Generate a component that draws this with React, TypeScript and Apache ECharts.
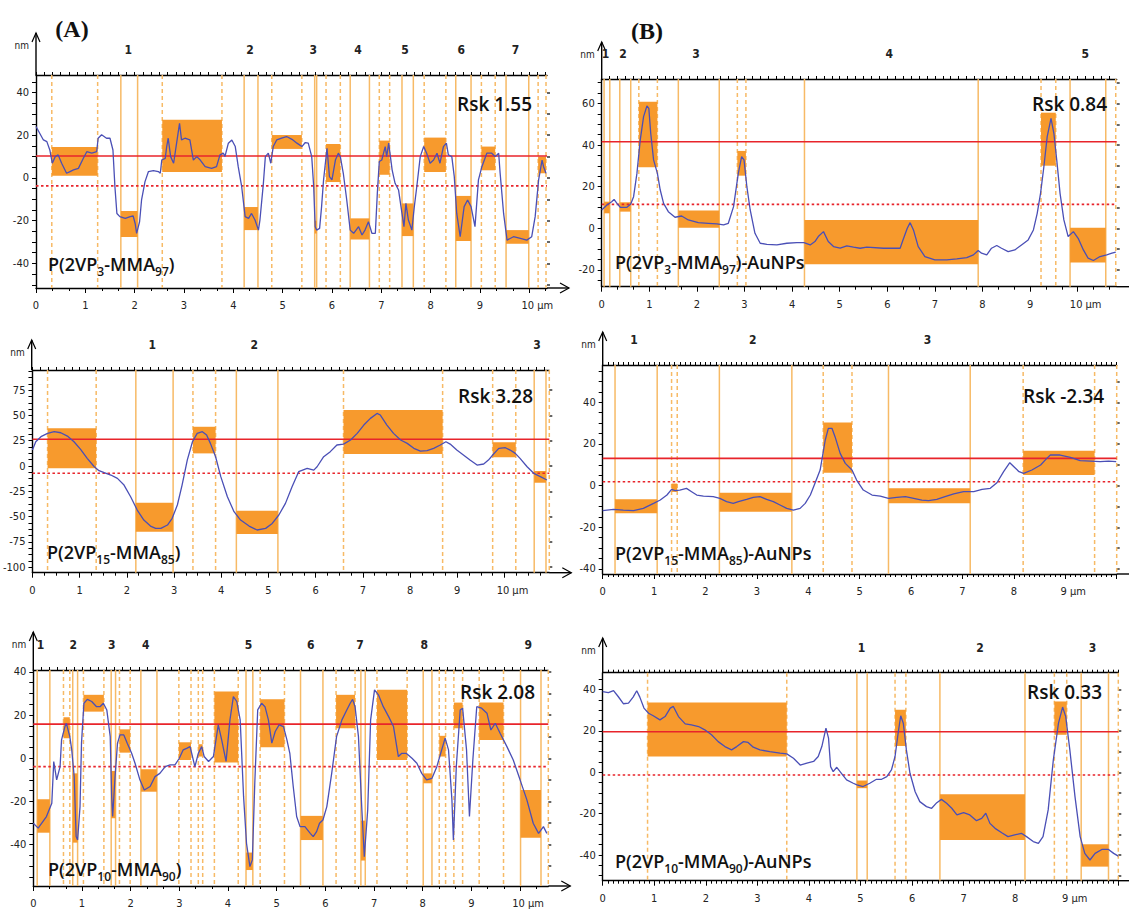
import React, { useEffect, useRef } from 'react';
import * as echarts from 'echarts';

// ---------------- DATA ----------------
// Panel A1 : P(2VP3-MMA97)
const a1Profile = [[0,24.1],[0.15,17.8],[0.22,17.0],[0.28,13.1],[0.33,6.9],[0.39,10.0],[0.45,10.8],[0.52,6.9],[0.62,2.2],[0.69,3.0],[0.76,3.8],[0.86,4.5],[0.96,9.2],[1.03,12.3],[1.13,11.6],[1.23,12.3],[1.26,18.6],[1.33,20.2],[1.43,18.6],[1.50,18.6],[1.56,13.1],[1.60,-4.1],[1.64,-16.6],[1.70,-18.1],[1.81,-18.9],[1.91,-18.1],[1.97,-17.8],[2.01,-21.3],[2.04,-25.9],[2.10,-20.5],[2.14,-10.3],[2.21,-1.7],[2.28,3.0],[2.38,3.4],[2.48,3.0],[2.52,2.2],[2.55,8.4],[2.62,9.2],[2.65,14.7],[2.68,18.6],[2.73,10.0],[2.79,6.9],[2.84,14.7],[2.91,25.6],[2.95,17.8],[3.02,18.6],[3.12,17.8],[3.19,8.4],[3.26,10.0],[3.33,8.4],[3.43,5.3],[3.56,4.5],[3.66,5.3],[3.73,10.8],[3.80,11.6],[3.83,10.0],[3.90,16.3],[3.97,17.8],[4.04,14.7],[4.10,5.3],[4.17,-4.1],[4.24,-18.1],[4.31,-18.9],[4.37,-16.6],[4.44,-19.7],[4.51,-24.4],[4.54,-19.7],[4.61,-2.5],[4.65,10.0],[4.71,11.6],[4.76,6.9],[4.81,14.7],[4.88,17.8],[4.98,18.6],[5.08,19.4],[5.19,18.1],[5.29,16.3],[5.39,14.7],[5.46,16.6],[5.52,16.3],[5.59,10.0],[5.63,-4.1],[5.66,-22.8],[5.69,-24.4],[5.75,-23.6],[5.79,-13.4],[5.83,-0.9],[5.90,13.9],[5.95,0.6],[6.00,-0.9],[6.07,8.4],[6.13,11.6],[6.17,10.0],[6.23,2.2],[6.30,-10.3],[6.37,-24.4],[6.44,-25.9],[6.54,-22.8],[6.61,-26.7],[6.67,-24.4],[6.74,-20.5],[6.81,-25.9],[6.88,-25.9],[6.92,-7.2],[6.96,7.7],[7.01,8.4],[7.08,14.7],[7.11,10.0],[7.15,16.3],[7.22,3.8],[7.28,-2.5],[7.35,-5.6],[7.42,-16.6],[7.46,-22.8],[7.50,-11.9],[7.55,-19.7],[7.62,-24.4],[7.67,-13.4],[7.72,-4.1],[7.79,10.0],[7.86,14.7],[7.92,11.6],[7.99,6.9],[8.06,8.4],[8.13,11.6],[8.19,6.9],[8.26,14.7],[8.32,16.3],[8.36,10.8],[8.43,10.0],[8.48,0.6],[8.53,-16.6],[8.60,-27.5],[8.68,-13.4],[8.75,-10.3],[8.82,-13.4],[8.90,-22.8],[8.97,-0.9],[9.04,5.3],[9.14,11.6],[9.24,11.6],[9.31,10.0],[9.38,11.6],[9.41,2.2],[9.48,-16.6],[9.55,-29.1],[9.68,-27.5],[9.82,-28.3],[9.95,-29.1],[10.05,-27.5],[10.12,-18.1],[10.19,-0.9],[10.26,8.4],[10.29,5.3],[10.34,2.2]];
const a1Rects = [[0.32,1.25,1.0,14.5],[1.72,2.06,-27.6,-15.5],[2.56,3.77,2.8,27.2],[4.22,4.50,-24.4,-13.6],[4.78,5.39,13.6,20.1],[5.65,5.69,-26.0,-20.0],[5.88,6.17,-1.9,15.9],[6.37,6.76,-28.8,-18.9],[6.96,7.17,1.5,17.5],[7.42,7.65,-27.2,-11.9],[7.87,8.31,2.8,18.9],[8.51,8.82,-29.5,-8.4],[9.03,9.31,3.6,14.7],[9.53,9.99,-30.8,-24.4],[10.18,10.34,2.2,10.0]];
const a1Solid = [1.72,2.06,4.22,4.50,5.65,5.69,6.37,6.76,7.42,7.65,8.51,8.82,9.53,9.99];
const a1Dashed = [0.32,1.25,2.56,3.77,4.78,5.39,5.88,6.17,6.96,7.17,7.87,8.31,9.03,9.31,10.18,10.34];
const a1Levels = [10.3, -3.7];
const a1Regions = [1.87,4.34,5.62,6.53,7.48,8.62,9.72];
const a1Rsk = 'Rsk 1.55';
const a1Name = ['P(2VP','3','-MMA','97',')'];

// Panel B1 : P(2VP3-MMA97)-AuNPs
const b1Profile = [[0,8.8],[0.11,11.2],[0.21,12.8],[0.26,13.9],[0.32,12.0],[0.39,10.1],[0.53,10.1],[0.61,11.7],[0.67,15.2],[0.74,26.4],[0.81,42.5],[0.88,53.7],[0.95,58.8],[0.99,57.7],[1.03,45.7],[1.09,32.9],[1.17,26.4],[1.23,18.4],[1.30,12.0],[1.40,8.0],[1.54,5.3],[1.68,5.9],[1.82,4.0],[2.03,2.7],[2.24,2.4],[2.42,2.1],[2.56,1.6],[2.66,2.4],[2.77,10.4],[2.87,26.4],[2.94,34.5],[2.99,32.9],[3.05,20.0],[3.12,8.8],[3.22,-2.4],[3.33,-7.2],[3.47,-7.7],[3.68,-8.0],[3.89,-7.2],[4.10,-6.9],[4.25,-6.9],[4.38,-8.0],[4.48,-6.4],[4.55,-4.0],[4.66,-1.6],[4.76,-6.4],[4.87,-8.8],[5.01,-9.6],[5.15,-8.5],[5.29,-9.1],[5.43,-9.6],[5.57,-9.1],[5.92,-9.6],[6.27,-9.6],[6.33,-5.6],[6.42,0.0],[6.48,2.7],[6.55,-0.8],[6.65,-8.8],[6.79,-13.6],[7.00,-15.2],[7.25,-15.2],[7.46,-14.7],[7.67,-14.1],[7.81,-12.8],[7.91,-10.7],[7.98,-12.0],[8.09,-12.8],[8.19,-9.6],[8.30,-8.3],[8.40,-9.6],[8.54,-11.2],[8.68,-10.4],[8.82,-8.0],[8.96,-5.6],[9.07,-0.8],[9.15,7.2],[9.22,16.8],[9.29,29.6],[9.36,44.1],[9.44,52.9],[9.50,45.7],[9.56,32.9],[9.63,16.8],[9.71,4.0],[9.80,-4.0],[9.91,-1.6],[10.01,-4.8],[10.12,-10.4],[10.22,-14.4],[10.33,-15.5],[10.47,-13.6],[10.61,-12.8],[10.72,-12.0],[10.80,-11.5]];
const b1Rects = [[0.05,0.17,7.2,12.8],[0.38,0.61,8.0,12.5],[0.78,1.17,29.3,60.9],[1.61,2.47,0.3,8.5],[2.85,3.03,25.3,37.2],[4.26,7.91,-17.3,4.0],[9.23,9.54,30.1,55.6],[9.84,10.59,-16.5,0.3]];
const b1Solid = [0.05,0.17,0.38,0.61,1.61,2.47,4.26,7.91,9.84,10.59];
const b1Dashed = [0.78,1.17,2.85,3.03,9.23,9.54,10.80];
const b1Levels = [41.6, 11.5];
const b1Regions = [0.08,0.45,1.98,6.04,10.16];
const b1Rsk = 'Rsk 0.84';
const b1Name = ['P(2VP','3','-MMA','97',')-AuNPs'];

// Panel A2 : P(2VP15-MMA85)
const a2Profile = [[0,15.8],[0.07,24.0],[0.18,29.0],[0.32,32.3],[0.46,33.9],[0.60,32.9],[0.74,29.6],[0.88,24.0],[1.02,16.5],[1.16,7.6],[1.31,-0.7],[1.41,-4.6],[1.52,-6.6],[1.66,-8.9],[1.80,-12.2],[1.94,-18.8],[2.08,-30.3],[2.22,-43.5],[2.36,-53.4],[2.50,-59.3],[2.61,-61.6],[2.72,-61.6],[2.86,-58.3],[2.96,-51.7],[3.07,-38.5],[3.17,-18.8],[3.28,5.9],[3.39,24.0],[3.49,32.3],[3.60,33.9],[3.69,30.6],[3.77,22.4],[3.88,9.2],[3.99,-10.5],[4.13,-30.3],[4.27,-45.1],[4.41,-53.4],[4.59,-59.3],[4.76,-63.2],[4.94,-61.6],[5.08,-56.7],[5.22,-48.4],[5.36,-36.9],[5.50,-20.4],[5.64,-5.6],[5.82,-2.3],[5.96,-4.0],[6.03,-0.7],[6.17,9.2],[6.31,14.2],[6.45,20.8],[6.59,21.7],[6.74,25.7],[6.88,32.3],[7.02,40.5],[7.16,47.1],[7.30,52.0],[7.37,50.4],[7.51,40.5],[7.65,32.3],[7.80,25.7],[7.94,22.4],[8.08,17.5],[8.22,14.8],[8.36,15.2],[8.50,17.5],[8.64,20.8],[8.76,24.0],[8.85,21.7],[8.99,15.8],[9.13,10.9],[9.27,5.9],[9.42,1.0],[9.56,2.0],[9.66,5.9],[9.77,11.9],[9.88,17.5],[10.02,18.1],[10.12,15.8],[10.23,12.5],[10.33,7.6],[10.48,-0.7],[10.62,-7.2],[10.76,-10.5],[10.90,-13.8]];
const a2Rects = [[0.32,1.35,-2.3,37.3],[2.19,2.98,-64.9,-36.3],[3.40,3.88,12.5,38.8],[4.32,5.20,-67.2,-44.2],[6.59,8.69,11.9,55.3],[9.75,10.24,8.6,23.4],[10.63,10.88,-16.5,-4.9]];
const a2Solid = [2.19,2.98,4.32,5.20,10.63,10.88];
const a2Dashed = [0.32,1.35,3.40,3.88,6.59,8.69,9.75,10.24,10.95];
const a2Levels = [26.4, -7.2];
const a2Regions = [2.54,4.70,10.69];
const a2Rsk = 'Rsk 3.28';
const a2Name = ['P(2VP','15','-MMA','85',')'];

// Panel B2 : P(2VP15-MMA85)-AuNPs
const b2Profile = [[0,-12.0],[0.21,-11.4],[0.40,-11.7],[0.60,-12.0],[0.79,-10.9],[0.99,-8.5],[1.12,-6.9],[1.25,-4.5],[1.34,-1.8],[1.41,-2.4],[1.50,-2.1],[1.63,-1.3],[1.73,-2.9],[1.83,-4.5],[1.96,-5.0],[2.15,-5.3],[2.28,-6.1],[2.41,-7.7],[2.54,-8.5],[2.64,-7.7],[2.80,-6.6],[2.93,-5.6],[3.06,-5.3],[3.19,-6.6],[3.32,-7.7],[3.45,-9.3],[3.58,-10.9],[3.71,-11.7],[3.84,-10.9],[3.94,-8.5],[4.04,-4.5],[4.13,1.1],[4.23,7.5],[4.33,21.9],[4.39,27.5],[4.46,27.5],[4.52,23.5],[4.62,15.5],[4.72,10.7],[4.85,7.5],[4.94,2.7],[5.07,-2.1],[5.24,-4.5],[5.40,-5.0],[5.56,-6.1],[5.72,-5.6],[5.89,-5.3],[6.05,-6.1],[6.21,-6.9],[6.34,-7.2],[6.50,-6.6],[6.66,-5.3],[6.83,-4.0],[7.02,-2.9],[7.22,-2.9],[7.38,-1.8],[7.54,-1.3],[7.67,1.4],[7.80,6.7],[7.92,11.0],[8.00,9.1],[8.10,6.7],[8.19,5.9],[8.35,7.5],[8.52,9.9],[8.64,13.1],[8.71,14.7],[8.90,14.7],[9.10,13.6],[9.29,12.0],[9.49,11.8],[9.68,11.5],[9.84,11.8],[9.99,11.5]];
const b2Rects = [[0.24,1.06,-13.3,-6.5],[1.34,1.45,-3.0,1.0],[2.27,3.68,-12.5,-3.4],[4.29,4.85,6.2,30.3],[5.56,7.15,-8.5,-1.3],[8.18,9.57,5.1,16.8]];
const b2Solid = [0.24,1.06,2.27,3.68,5.56,7.15];
const b2Dashed = [1.34,1.45,4.29,4.85,8.18,9.57,10.0];
const b2Levels = [13.1, 1.9];
const b2Regions = [0.61,2.92,6.32];
const b2Rsk = 'Rsk -2.34';
const b2Name = ['P(2VP','15','-MMA','85',')-AuNPs'];

// Panel A3 : P(2VP10-MMA90)
const a3Profile = [[0,-30.1],[0.10,-32.4],[0.27,-27.0],[0.38,-20.9],[0.42,-1.5],[0.48,-10.0],[0.55,-3.9],[0.58,8.5],[0.65,14.7],[0.68,16.2],[0.75,10.0],[0.79,3.9],[0.84,-8.5],[0.88,-36.3],[0.91,-37.9],[0.96,-22.4],[0.99,7.0],[1.04,25.5],[1.11,27.3],[1.20,26.3],[1.30,23.9],[1.37,23.9],[1.44,25.5],[1.51,22.4],[1.58,10.0],[1.61,-17.8],[1.63,-27.0],[1.68,-8.5],[1.73,7.0],[1.78,10.8],[1.86,10.8],[1.93,7.0],[2.02,2.3],[2.09,-2.3],[2.19,-10.0],[2.28,-14.7],[2.40,-13.1],[2.50,-8.5],[2.60,-7.0],[2.71,-3.9],[2.81,-3.1],[2.91,-3.1],[3.00,0.0],[3.08,3.9],[3.15,4.6],[3.22,5.4],[3.27,0.8],[3.32,-3.9],[3.39,2.3],[3.46,5.4],[3.51,0.8],[3.60,-1.5],[3.70,0.8],[3.80,15.5],[3.87,8.5],[3.96,-1.5],[4.04,17.8],[4.11,28.6],[4.18,26.3],[4.25,17.8],[4.32,-17.8],[4.38,-39.4],[4.45,-50.2],[4.50,-47.1],[4.55,-11.6],[4.61,22.4],[4.69,25.5],[4.76,23.9],[4.83,17.8],[4.90,7.0],[4.97,12.4],[5.05,15.5],[5.14,14.7],[5.21,8.5],[5.27,2.3],[5.34,-13.1],[5.41,-27.0],[5.48,-31.7],[5.58,-31.7],[5.69,-34.8],[5.75,-36.3],[5.82,-34.0],[5.88,-30.1],[5.95,-28.6],[6.03,-22.4],[6.13,-7.0],[6.23,10.0],[6.34,17.8],[6.44,22.4],[6.51,25.5],[6.56,27.3],[6.61,23.9],[6.68,10.0],[6.75,-23.9],[6.80,-45.6],[6.87,-23.9],[6.93,17.8],[7.01,31.7],[7.09,29.4],[7.19,23.9],[7.30,19.3],[7.40,14.7],[7.50,0.8],[7.57,2.3],[7.66,2.3],[7.78,0.0],[7.88,-2.3],[7.98,-7.0],[8.08,-10.0],[8.19,-9.3],[8.29,-3.9],[8.37,2.3],[8.46,9.3],[8.53,3.9],[8.60,-19.3],[8.63,-37.9],[8.69,-3.9],[8.77,22.4],[8.82,23.2],[8.90,3.9],[8.96,-27.0],[9.03,-0.8],[9.11,23.9],[9.21,23.2],[9.32,20.9],[9.40,13.1],[9.49,16.2],[9.59,11.6],[9.73,5.4],[9.86,-0.8],[10.00,-10.0],[10.14,-19.3],[10.27,-30.1],[10.38,-34.8],[10.48,-31.7],[10.55,-34.8]];
const a3Rects = [[0.08,0.34,-34.5,-19.0],[0.62,0.75,9.3,19.0],[0.81,0.91,-39.1,-7.0],[1.03,1.45,21.6,29.4],[1.60,1.69,-27.8,-5.9],[1.77,1.99,2.6,13.4],[2.21,2.54,-15.5,-5.1],[2.99,3.24,-0.8,7.4],[3.39,3.48,0.8,6.5],[3.72,4.21,-2.0,30.9],[4.37,4.51,-51.8,-43.7],[4.66,5.16,5.1,27.3],[5.49,5.95,-37.9,-26.7],[6.22,6.61,13.9,29.4],[6.73,6.82,-47.4,-28.9],[7.06,7.68,-0.8,31.7],[8.01,8.19,-11.6,-7.0],[8.34,8.47,0.8,10.4],[8.64,8.82,13.9,25.8],[9.16,9.66,8.5,25.8],[10.01,10.43,-36.8,-14.7]];
const a3Solid = [0.08,0.34,0.81,0.91,1.60,1.69,2.21,2.54,4.37,4.51,5.49,5.95,6.73,6.82,8.01,8.19,10.01,10.43];
const a3Dashed = [0.62,0.75,1.03,1.45,1.77,1.99,2.99,3.24,3.39,3.48,3.72,4.21,4.66,5.16,6.22,6.61,7.06,7.68,8.34,8.47,8.64,8.82,9.16,9.66,10.58];
const a3Levels = [15.8, -3.9];
const a3Regions = [0.15,0.82,1.61,2.31,4.42,5.70,6.71,8.03,10.17];
const a3Rsk = 'Rsk 2.08';
const a3Name = ['P(2VP','10','-MMA','90',')'];

// Panel B3 : P(2VP10-MMA90)-AuNPs
const b3Profile = [[0,39.0],[0.11,38.5],[0.21,39.4],[0.30,36.6],[0.40,33.1],[0.50,33.4],[0.59,36.3],[0.66,39.4],[0.72,36.3],[0.80,31.0],[0.89,28.5],[0.98,27.3],[1.11,25.3],[1.21,26.9],[1.31,31.0],[1.37,31.8],[1.47,26.9],[1.60,23.4],[1.72,22.9],[1.86,22.1],[1.98,20.5],[2.11,18.1],[2.24,14.8],[2.37,12.4],[2.50,10.8],[2.60,12.4],[2.73,14.8],[2.82,14.4],[2.92,12.1],[3.05,10.8],[3.24,10.0],[3.44,9.2],[3.57,8.9],[3.70,6.8],[3.83,3.5],[3.96,4.4],[4.09,5.2],[4.18,7.6],[4.25,12.4],[4.33,21.3],[4.38,16.5],[4.42,2.7],[4.47,0.3],[4.54,2.4],[4.63,-0.5],[4.73,-3.7],[4.86,-5.3],[4.93,-6.1],[5.05,-6.9],[5.18,-5.3],[5.31,-3.4],[5.41,-3.4],[5.51,-2.1],[5.60,1.1],[5.67,7.6],[5.73,18.9],[5.78,27.3],[5.83,23.7],[5.89,10.8],[5.96,-0.5],[6.06,-9.4],[6.15,-14.2],[6.28,-16.6],[6.38,-17.4],[6.48,-14.7],[6.57,-13.1],[6.67,-15.0],[6.77,-17.4],[6.87,-20.6],[7.00,-19.5],[7.12,-20.6],[7.25,-23.4],[7.35,-22.3],[7.43,-19.8],[7.51,-24.7],[7.61,-27.1],[7.74,-29.2],[7.86,-31.1],[7.99,-30.3],[8.12,-29.5],[8.22,-31.1],[8.35,-33.5],[8.45,-34.4],[8.54,-31.1],[8.64,-18.2],[8.74,6.0],[8.84,23.7],[8.92,31.5],[8.98,26.9],[9.06,10.8],[9.16,-11.8],[9.26,-31.1],[9.35,-39.2],[9.45,-42.4],[9.55,-39.2],[9.68,-37.3],[9.81,-37.3],[9.91,-39.2],[10.0,-40.5]];
const b3Rects = [[0.87,3.57,7.6,33.7],[4.93,5.13,-7.7,-4.0],[5.67,5.88,12.7,30.2],[6.54,8.19,-32.7,-10.6],[8.76,9.00,18.1,34.2],[9.28,9.81,-45.6,-34.8]];
const b3Solid = [4.93,5.13,6.54,8.19,9.28,9.81];
const b3Dashed = [0.87,3.57,5.67,5.88,8.76,9.00,10.0];
const b3Levels = [19.6, -1.3];
const b3Regions = [5.02,7.32,9.50];
const b3Rsk = 'Rsk 0.33';
const b3Name = ['P(2VP','10','-MMA','90',')-AuNPs'];

const PANELS = [
  { profile: a1Profile, rects: a1Rects, solid: a1Solid, dashed: a1Dashed, levels: a1Levels, regions: a1Regions, rsk: a1Rsk, name: a1Name },
  { profile: b1Profile, rects: b1Rects, solid: b1Solid, dashed: b1Dashed, levels: b1Levels, regions: b1Regions, rsk: b1Rsk, name: b1Name },
  { profile: a2Profile, rects: a2Rects, solid: a2Solid, dashed: a2Dashed, levels: a2Levels, regions: a2Regions, rsk: a2Rsk, name: a2Name },
  { profile: b2Profile, rects: b2Rects, solid: b2Solid, dashed: b2Dashed, levels: b2Levels, regions: b2Regions, rsk: b2Rsk, name: b2Name },
  { profile: a3Profile, rects: a3Rects, solid: a3Solid, dashed: a3Dashed, levels: a3Levels, regions: a3Regions, rsk: a3Rsk, name: a3Name },
  { profile: b3Profile, rects: b3Rects, solid: b3Solid, dashed: b3Dashed, levels: b3Levels, regions: b3Regions, rsk: b3Rsk, name: b3Name },
];

// ---------------- LAYOUT / STYLE ----------------
const LAYOUT = [
  { left: 36, top: 75, width: 511, height: 213, xMax: 10.36, yMin: -51.5, yMax: 48.2, yLabelStep: 20, yTickStep: 5, rightStep: 10, botMinor: 3, topMinor: 6, unitAt: 10, arrowTop: 33, rsk: [457, 104], name: [48, 264] },
  { left: 601.7, top: 79, width: 515, height: 207.7, xMax: 10.82, yMin: -28.1, yMax: 71.8, yLabelStep: 20, yTickStep: 5, rightStep: 10, botMinor: 3, topMinor: 6, unitAt: 10, arrowTop: 42, rsk: [1032, 104], name: [615, 262] },
  { left: 31.7, top: 370, width: 517.6, height: 202.7, xMax: 10.95, yMin: -105.4, yMax: 94.9, yLabelStep: 25, yTickStep: 6.25, rightStep: 25, botMinor: 4, topMinor: 6, unitAt: 10, arrowTop: 340, rsk: [458, 396], name: [47, 552] },
  { left: 602.7, top: 365, width: 514, height: 209, xMax: 10.0, yMin: -42.4, yMax: 57.9, yLabelStep: 20, yTickStep: 5, rightStep: 10, botMinor: 10, topMinor: 10, unitAt: 9, arrowTop: 332, rsk: [1023, 396], name: [615, 553] },
  { left: 33.3, top: 670, width: 515, height: 216, xMax: 10.58, yMin: -59.2, yMax: 40.9, yLabelStep: 20, yTickStep: 5, rightStep: 10, botMinor: 3, topMinor: 6, unitAt: 10, arrowTop: 632, rsk: [460, 692], name: [48, 869] },
  { left: 602.7, top: 672.7, width: 515.6, height: 208, xMax: 10.0, yMin: -52.4, yMax: 48.1, yLabelStep: 20, yTickStep: 5, rightStep: 10, botMinor: 10, topMinor: 10, unitAt: 9, arrowTop: 638, rsk: [1027, 692], name: [615, 861] },
];

const ORANGE_FILL = '#F79A2D';
const ORANGE_LINE = '#F7BA66';
const RED = '#E8242B';
const BLUE = '#4A4FB6';
const AXIS_FONT = "'Liberation Sans Narrow', 'DejaVu Sans Condensed', 'Liberation Sans', sans-serif";
const LABEL_FONT = "'Open Sans', 'Noto Sans', sans-serif";

function range(from: number, to: number, step: number): number[] {
  const out: number[] = [];
  const n0 = Math.ceil(from / step - 1e-9);
  const n1 = Math.floor(to / step + 1e-9);
  for (let k = n0; k <= n1; k++) out.push(Math.round(k * step * 10000) / 10000);
  return out;
}

export default function App() {
  const ref = useRef<HTMLDivElement>(null);
  useEffect(() => {
    const chart = echarts.init(ref.current as HTMLDivElement, null, { renderer: 'svg' });
    const grids: any[] = [];
    const xAxes: any[] = [];
    const yAxes: any[] = [];
    const series: any[] = [];

    PANELS.forEach((p, i) => {
      const L = LAYOUT[i];
      grids.push({ left: L.left, top: L.top, width: L.width, height: L.height, containLabel: false });
      xAxes.push({
        gridIndex: i, type: 'value', min: 0, max: L.xMax, position: 'bottom',
        axisLine: { show: true, onZero: false, lineStyle: { color: '#000', width: 1.4 } },
        axisTick: { show: true, length: 5, customValues: range(0, L.xMax, 1), lineStyle: { color: '#000' } },
        axisLabel: {
          show: true, customValues: range(0, L.unitAt, 1), margin: 12,
          fontSize: 11, fontFamily: AXIS_FONT, color: '#222',
          formatter: (v: number) => (Math.round(v) === L.unitAt ? `{u|${Math.round(v)} µm}` : `${Math.round(v)}`),
          rich: { u: { padding: [0, 0, 0, 16], fontSize: 11, fontFamily: AXIS_FONT, color: '#222' } },
        },
        splitLine: { show: false },
      });
      xAxes.push({
        gridIndex: i, type: 'value', min: 0, max: L.xMax, position: 'bottom',
        axisLine: { show: false, onZero: false },
        axisTick: { show: true, length: 3, customValues: range(0, L.xMax, 1 / L.botMinor).filter((v) => Math.abs(v - Math.round(v)) > 1e-3), lineStyle: { color: '#000' } },
        axisLabel: { show: false }, splitLine: { show: false },
      });
      xAxes.push({
        gridIndex: i, type: 'value', min: 0, max: L.xMax, position: 'top',
        axisLine: { show: true, onZero: false, lineStyle: { color: '#000', width: 1.4 } },
        axisTick: { show: true, length: 3, customValues: range(0, L.xMax, 1 / L.topMinor), lineStyle: { color: '#000' } },
        axisLabel: { show: false }, splitLine: { show: false },
      });
      yAxes.push({
        gridIndex: i, type: 'value', min: L.yMin, max: L.yMax, position: 'left',
        axisLine: { show: true, onZero: false, lineStyle: { color: '#000', width: 1.4 } },
        axisTick: { show: true, length: 4, customValues: range(L.yMin, L.yMax, L.yTickStep), lineStyle: { color: '#000' } },
        axisLabel: { show: true, customValues: range(L.yMin, L.yMax, L.yLabelStep), margin: 7, fontSize: 11, fontFamily: AXIS_FONT, color: '#222' },
        splitLine: { show: false },
      });
      yAxes.push({
        gridIndex: i, type: 'value', min: L.yMin, max: L.yMax, position: 'right',
        axisLine: { show: false, onZero: false },
        axisTick: { show: true, length: 3, customValues: range(L.yMin, L.yMax, L.rightStep), lineStyle: { color: '#333', width: 1.5 } },
        axisLabel: { show: false }, splitLine: { show: false },
      });

      const xi = 3 * i;
      const yi = 2 * i;
      // vertical cursor lines
      series.push({
        type: 'custom', xAxisIndex: xi, yAxisIndex: yi, z: 1, silent: true,
        data: [...p.solid.map((v) => [v, 0]), ...p.dashed.map((v) => [v, 1])],
        encode: { x: 0, y: 1 },
        renderItem: (_params: any, api: any) => {
          const x = api.value(0);
          const a = api.coord([x, L.yMax]);
          const b = api.coord([x, L.yMin]);
          const style: any = { stroke: ORANGE_LINE, lineWidth: 1.5 };
          if (api.value(1)) style.lineDash = [4, 3];
          return { type: 'line', shape: { x1: a[0], y1: a[1], x2: b[0], y2: b[1] }, style };
        },
      });
      // rectangles
      series.push({
        type: 'custom', xAxisIndex: xi, yAxisIndex: yi, z: 2, silent: true,
        data: p.rects,
        encode: { x: [0, 1], y: [2, 3] },
        renderItem: (_params: any, api: any) => {
          const x1 = api.value(0), x2 = api.value(1), y1 = api.value(2), y2 = api.value(3);
          const a = api.coord([Math.min(x1, x2), Math.max(y1, y2)]);
          const b = api.coord([Math.max(x1, x2), Math.min(y1, y2)]);
          return { type: 'rect', shape: { x: a[0], y: a[1], width: b[0] - a[0], height: b[1] - a[1] }, style: { fill: ORANGE_FILL } };
        },
      });
      // red level lines
      series.push({
        type: 'custom', xAxisIndex: xi, yAxisIndex: yi, z: 3, silent: true,
        data: [[p.levels[0], 0], [p.levels[1], 1]],
        encode: { x: 1, y: 0 },
        renderItem: (_params: any, api: any) => {
          const y = api.value(0);
          const a = api.coord([0, y]);
          const b = api.coord([L.xMax, y]);
          const style: any = { stroke: RED, lineWidth: 1.6 };
          if (api.value(1)) style.lineDash = [2.5, 2.5];
          return { type: 'line', shape: { x1: a[0], y1: a[1], x2: b[0], y2: b[1] }, style };
        },
      });
      // height profile
      series.push({
        type: 'line', xAxisIndex: xi, yAxisIndex: yi, z: 4, silent: true,
        data: p.profile, symbol: 'none', showSymbol: false,
        lineStyle: { color: BLUE, width: 1.3 },
      });
    });

    chart.setOption({
      animation: false,
      backgroundColor: '#ffffff',
      grid: grids,
      xAxis: xAxes,
      yAxis: yAxes,
      series,
    });

    const g: any[] = [];
    g.push({ type: 'text', z: 100, x: 72, y: 29, style: { text: '(A)', fontFamily: "'Liberation Serif', serif", fontWeight: 'bold', fontSize: 24, fill: '#111', align: 'center', verticalAlign: 'middle' } });
    g.push({ type: 'text', z: 100, x: 647, y: 31, style: { text: '(B)', fontFamily: "'Liberation Serif', serif", fontWeight: 'bold', fontSize: 24, fill: '#111', align: 'center', verticalAlign: 'middle' } });

    PANELS.forEach((p, i) => {
      const L = LAYOUT[i];
      const right = L.left + L.width;
      const bottom = L.top + L.height;
      // axis extensions with arrows
      g.push({ type: 'line', z: 100, shape: { x1: L.left, y1: L.top, x2: L.left, y2: L.arrowTop }, style: { stroke: '#000', lineWidth: 1.4 } });
      g.push({ type: 'polyline', z: 100, shape: { points: [[L.left - 4, L.arrowTop + 9], [L.left, L.arrowTop], [L.left + 4, L.arrowTop + 9]] }, style: { stroke: '#000', fill: null, lineWidth: 1.2 } });
      g.push({ type: 'line', z: 100, shape: { x1: right, y1: bottom, x2: right + 22, y2: bottom }, style: { stroke: '#000', lineWidth: 1.4 } });
      g.push({ type: 'polyline', z: 100, shape: { points: [[right + 13, bottom - 5], [right + 22, bottom], [right + 13, bottom + 5]] }, style: { stroke: '#000', fill: null, lineWidth: 1.2 } });
      g.push({ type: 'text', z: 100, x: L.left - 7, y: L.arrowTop + 12, style: { text: 'nm', fontSize: 10, fontFamily: AXIS_FONT, fill: '#222', align: 'right', verticalAlign: 'middle' } });
      // Rsk
      g.push({ type: 'text', z: 100, x: L.rsk[0], y: L.rsk[1], style: { text: p.rsk, fontSize: 19, fontFamily: LABEL_FONT, fontWeight: 600, fill: '#111', align: 'left', verticalAlign: 'middle' } });
      // sample name with subscripts
      const txt = p.name.map((s, k) => (k % 2 === 1 ? `{s|${s}}` : `{n|${s}}`)).join('');
      g.push({
        type: 'text', z: 100, x: L.name[0], y: L.name[1],
        style: {
          text: txt, align: 'left', verticalAlign: 'middle', fill: '#111',
          rich: {
            n: { fontSize: 18, fontFamily: LABEL_FONT, fontWeight: 600, fill: '#111', lineHeight: 26, verticalAlign: 'middle' },
            s: { fontSize: 12, fontFamily: LABEL_FONT, fontWeight: 600, fill: '#111', lineHeight: 13, verticalAlign: 'bottom' },
          },
        },
      });
      // region numbers above frame
      p.regions.forEach((v, k) => {
        const px = chart.convertToPixel({ xAxisIndex: 3 * i }, v) as number;
        g.push({ type: 'text', z: 100, x: px, y: L.top - 25, style: { text: String(k + 1), fontSize: 12, fontWeight: 'bold', fontFamily: AXIS_FONT, fill: '#222', align: 'center', verticalAlign: 'middle' } });
      });
    });

    chart.setOption({ graphic: g });
    return () => chart.dispose();
  }, []);

  return <div ref={ref} style={{ position: 'absolute', left: 0, top: 0, width: 1129, height: 910, background: '#fff' }} />;
}
